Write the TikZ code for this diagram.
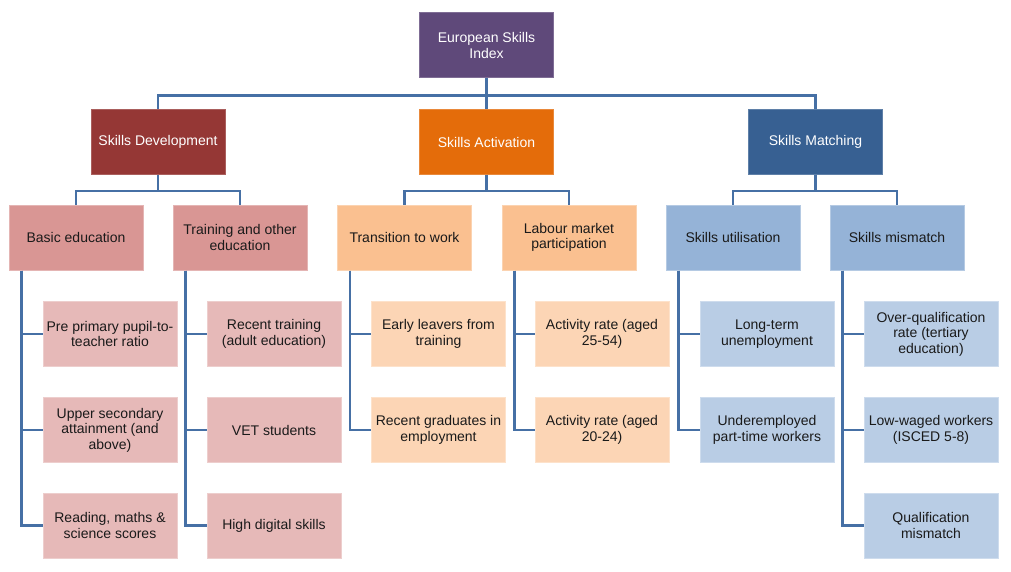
\documentclass[tikz,border=0pt]{standalone}
\usepackage{fontspec}
\setmainfont{Liberation Sans}
\usepackage{xcolor}
\usepackage{tikz}
\usetikzlibrary{positioning}

\definecolor{indexpurple}{HTML}{5F497A}
\definecolor{devred}{HTML}{953735}
\definecolor{actorange}{HTML}{E46C0A}
\definecolor{matchblue}{HTML}{376092}
\definecolor{devmid}{HTML}{D99694}
\definecolor{actmid}{HTML}{FAC090}
\definecolor{matchmid}{HTML}{95B3D7}
\definecolor{devlight}{HTML}{E6B9B8}
\definecolor{actlight}{HTML}{FCD5B5}
\definecolor{matchlight}{HTML}{B9CDE5}
\definecolor{linkblue}{HTML}{4670A5}
\definecolor{textdark}{HTML}{1A1A1A}

\begin{document}
\begin{tikzpicture}[x=1pt, y=-1pt,
  box/.style={minimum width=134pt, minimum height=65pt, inner sep=2pt, align=center,
    font=\fontsize{14}{15.5}\selectfont, line width=1pt},
  headbox/.style={box, fill=#1, draw=#1!80!white, text=white},
  subbox/.style={box, fill=#1, draw=#1!70!white, text=textdark},
  link/.style={draw=linkblue, line width=2.5pt}]
\useasboundingbox (0,0) rectangle (1011,572);

% Index
\node[headbox=indexpurple] (esi) at (486.5,45.5) {European Skills\\Index};

% Pillars
\node[headbox=devred] (dev) at (158,142) {Skills Development};
\node[headbox=actorange] (act) at (486.5,142) {Skills Activation};
\node[headbox=matchblue] (match) at (815.5,142) {Skills Matching};

% Sub-pillars
\node[subbox=devmid] (basic) at (76,237.5) {Basic education};
\node[subbox=devmid] (train) at (240,237.5) {Training and other\\education};
\node[subbox=actmid] (trans) at (404.5,237.5) {Transition  to work};
\node[subbox=actmid] (labour) at (569,237.5) {Labour market\\participation};
\node[subbox=matchmid] (util) at (733,237.5) {Skills utilisation};
\node[subbox=matchmid] (mism) at (897,237.5) {Skills mismatch};

% Indicators
\node[subbox=devlight] (basicA) at (110,334) {Pre primary pupil-to-\\teacher ratio};
\node[subbox=devlight] (basicB) at (110,430) {Upper secondary\\attainment (and\\above)};
\node[subbox=devlight] (basicC) at (110,525.5) {Reading, maths \&\\science scores};
\node[subbox=devlight] (trainA) at (274,334) {Recent training\\(adult education)};
\node[subbox=devlight] (trainB) at (274,430) {VET students};
\node[subbox=devlight] (trainC) at (274,525.5) {High digital skills};
\node[subbox=actlight] (transA) at (438.5,334) {Early leavers from\\training};
\node[subbox=actlight] (transB) at (438.5,430) {Recent graduates in\\employment};
\node[subbox=actlight] (labourA) at (602,334) {Activity rate (aged\\25-54)};
\node[subbox=actlight] (labourB) at (602,430) {Activity rate (aged\\20-24)};
\node[subbox=matchlight] (utilA) at (767,334) {Long-term\\unemployment};
\node[subbox=matchlight] (utilB) at (767,430) {Underemployed\\part-time workers};
\node[subbox=matchlight] (mismA) at (931,334) {Over-qualification\\rate (tertiary\\education)};
\node[subbox=matchlight] (mismB) at (931,430) {Low-waged workers\\(ISCED 5-8)};
\node[subbox=matchlight] (mismC) at (931,525.5) {Qualification\\mismatch};

% Index to pillars
\draw[link] (esi.south) -- (act.north);
\draw[link] (esi.south) -- ++(0,17) -| (dev.north);
\draw[link] (esi.south) -- ++(0,17) -| (match.north);

% Pillars to sub-pillars
\draw[link] (dev.south) -- ++(0,16) -| (basic.north);
\draw[link] (dev.south) -- ++(0,16) -| (train.north);
\draw[link] (act.south) -- ++(0,16) -| (trans.north);
\draw[link] (act.south) -- ++(0,16) -| (labour.north);
\draw[link] (match.south) -- ++(0,16) -| (util.north);
\draw[link] (match.south) -- ++(0,16) -| (mism.north);

% Sub-pillars to indicators
\foreach \grp/\kids in {basic/{basicA,basicB,basicC}, train/{trainA,trainB,trainC},
    trans/{transA,transB}, labour/{labourA,labourB}, util/{utilA,utilB},
    mism/{mismA,mismB,mismC}}
  \foreach \kid in \kids
    \draw[link] ([xshift=13pt]\grp.south west) |- (\kid.west);
\end{tikzpicture}
\end{document}
